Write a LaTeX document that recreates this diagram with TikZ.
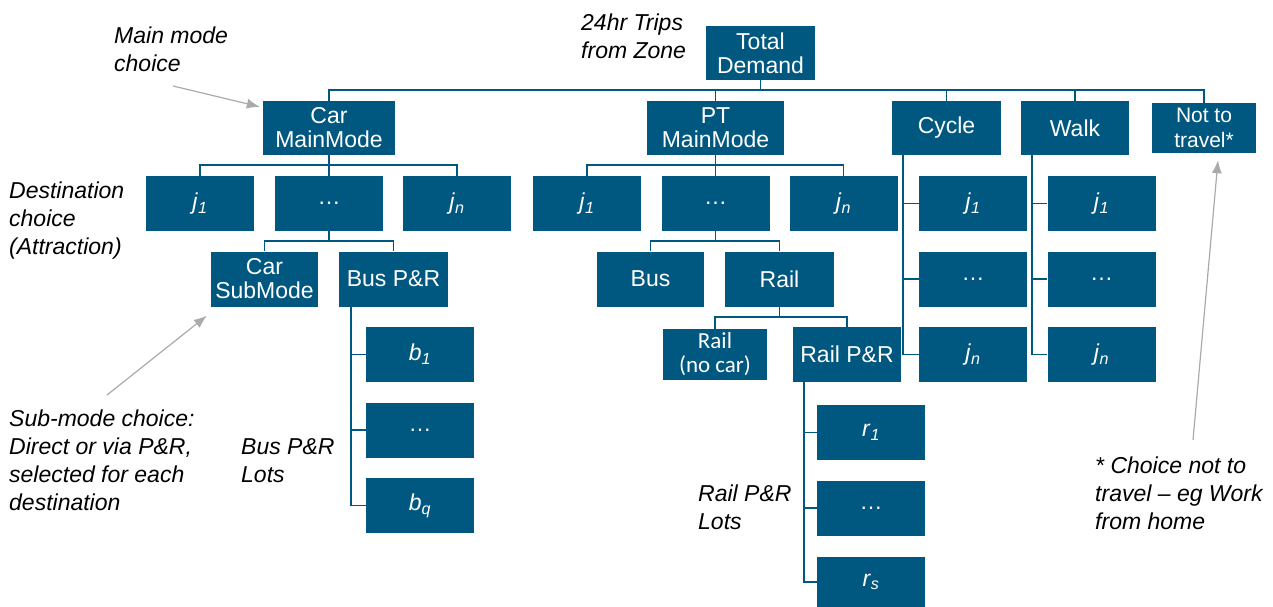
\documentclass[tikz,border=0pt]{standalone}
\usepackage{fontspec}
\setmainfont{Liberation Sans}
\newfontfamily\calib{Carlito}
\usetikzlibrary{arrows.meta}
\definecolor{boxblue}{RGB}{0,88,128}
\definecolor{arrowgray}{RGB}{170,170,170}
\newcommand{\sym}[2]{\textit{#1}\textsubscript{\textit{#2}}}
\begin{document}
\begin{tikzpicture}[x=1pt,y=-1pt,
  bx/.style={fill=boxblue, text=white, inner sep=0pt, align=center, font=\fontsize{23}{24}\selectfont},
  std/.style={bx, minimum width=108pt, minimum height=55pt},
  lbl/.style={inner sep=0pt, anchor=west, align=left, font=\fontsize{23}{28}\selectfont\itshape},
  conn/.style={draw=boxblue, line width=1.8pt},
  callout/.style={draw=arrowgray, line width=1.2pt, -{Latex[length=13pt,width=10pt]}}]
\useasboundingbox (0,0) rectangle (1273,607);

% top level
\node[bx, minimum width=109pt, minimum height=54pt] (TD) at (760.5,53) {Total\\Demand};
\node[bx, minimum width=132pt, minimum height=54pt] (car) at (329,128) {Car\\MainMode};
\node[bx, minimum width=137pt, minimum height=54pt] (pt) at (715.5,128) {PT\\MainMode};
\node[bx, minimum width=109pt, minimum height=54pt] (cyc) at (946.5,128) {Cycle};
\node[bx, minimum width=108pt, minimum height=54pt] (walk) at (1075,128) {Walk};
\node[bx, minimum width=104pt, minimum height=50pt, font=\fontsize{21}{25}\selectfont] (ntt) at (1204,128) {Not to\\travel*};

% destinations
\node[std] (cj1) at (200,203.5) {\sym{j}{1}};
\node[std] (cjd) at (329,203.5) {\dots};
\node[std] (cjn) at (457,203.5) {\sym{j}{n}};
\node[std] (pj1) at (587,203.5) {\sym{j}{1}};
\node[std] (pjd) at (715.5,203.5) {\dots};
\node[std] (pjn) at (843.5,203.5) {\sym{j}{n}};
\node[std] (cyj1) at (973,203.5) {\sym{j}{1}};
\node[std] (cyjd) at (973,279) {\dots};
\node[std] (cyjn) at (973,354.5) {\sym{j}{n}};
\node[std] (wj1) at (1101.5,203.5) {\sym{j}{1}};
\node[std] (wjd) at (1101.5,279) {\dots};
\node[std] (wjn) at (1101.5,354.5) {\sym{j}{n}};

% sub modes
\node[std, minimum width=107pt] (csub) at (264.5,279) {Car\\SubMode};
\node[std, minimum width=109pt] (bpr) at (393.5,279) {Bus P\&R};
\node[std, minimum width=107pt] (bus) at (650.5,279) {Bus};
\node[std, minimum width=109pt] (rail) at (779.5,279) {Rail};
\node[bx, minimum width=104pt, minimum height=51pt, font=\calib\fontsize{23}{24}\selectfont] (rnc) at (715,354.5) {Rail\\(no car)};
\node[std] (rpr) at (847,354.5) {Rail P\&R};

% lots
\node[std] (b1) at (420,354.5) {\sym{b}{1}};
\node[std] (bd) at (420,430) {\dots};
\node[std] (bq) at (420,505.5) {\sym{b}{q}};
\node[std] (r1) at (871,432.5) {\sym{r}{1}};
\node[std] (rd) at (871,508) {\dots};
\node[std, minimum height=50pt] (rs) at (871,582) {\sym{r}{s}};

% connectors
\foreach \c in {car,pt,cyc,walk,ntt} \draw[conn] (TD.south) -- ++(0,10) -| (\c.north);
\foreach \c in {cj1,cjd,cjn} \draw[conn] (car.south) -- ++(0,10) -| (\c.north);
\foreach \c in {pj1,pjd,pjn} \draw[conn] (pt.south) -- ++(0,10) -| (\c.north);
\foreach \c in {csub,bpr} \draw[conn] (cjd.south) -- ++(0,10) -| (\c.north);
\foreach \c in {bus,rail} \draw[conn] (pjd.south) -- ++(0,10) -| (\c.north);
\foreach \c in {rnc,rpr} \draw[conn] (rail.south) -- ++(0,10) -| (\c.north);
\foreach \c in {b1,bd,bq} \draw[conn] ([xshift=12pt]bpr.south west) |- (\c.west);
\foreach \c in {r1,rd,rs} \draw[conn] ([xshift=11pt]rpr.south west) |- (\c.west);
\foreach \c in {cyj1,cyjd,cyjn} \draw[conn] ([xshift=11pt]cyc.south west) |- (\c.west);
\foreach \c in {wj1,wjd,wjn} \draw[conn] ([xshift=11pt]walk.south west) |- (\c.west);

% labels
\node[lbl] (lmain) at (114,49) {Main mode\\choice};
\node[lbl] (ltrips) at (581,36) {24hr Trips\\from Zone};
\node[lbl] (ldest) at (9,221) {Destination\\choice\\(Attraction)};
\node[lbl] (lsub) at (9,460) {Sub-mode choice:\\Direct or via P\&R,\\selected for each\\destination};
\node[lbl] (lbus) at (241,461) {Bus P\&R\\Lots};
\node[lbl] (lrail) at (698,507) {Rail P\&R\\Lots};
\node[lbl] (lntt) at (1095,493) {* Choice not to\\travel -- eg Work\\from home};

% callouts
\coordinate (amain) at (173,86);
\coordinate (asub) at (107,395);
\coordinate (antt) at (1193,440);
\draw[callout] (amain) -- ([shift={(-3,6)}]car.north west);
\draw[callout] (asub) -- ([shift={(-4,9)}]csub.south west);
\draw[callout] (antt) -- ([shift={(14,7)}]ntt.south);
\end{tikzpicture}
\end{document}
